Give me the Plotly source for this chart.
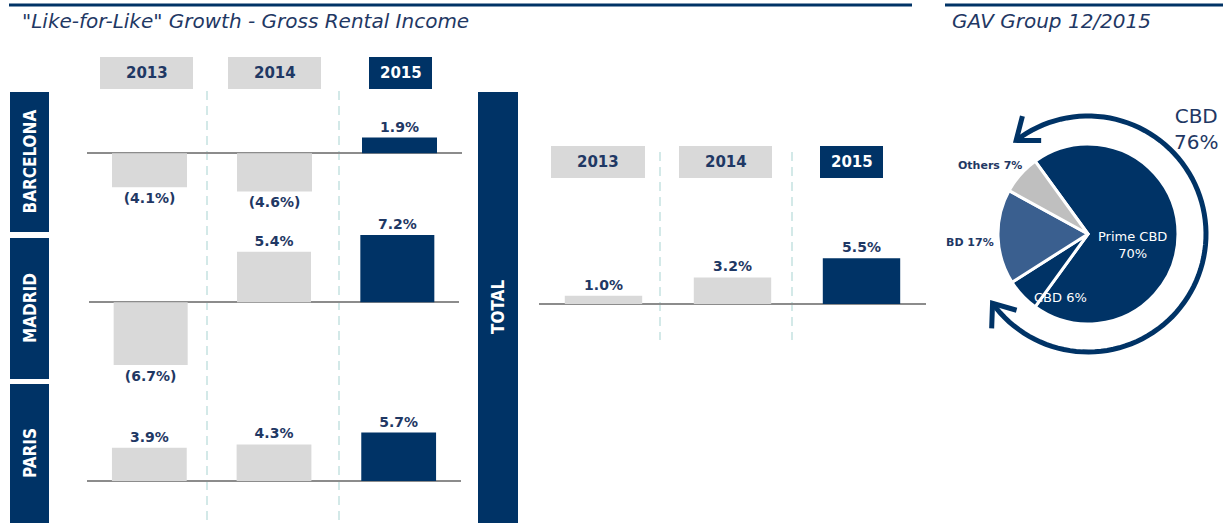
import math
import plotly.graph_objects as go

# ---------------- data ----------------
years = ["2013", "2014", "2015"]
cities = ["BARCELONA", "MADRID", "PARIS"]
barcelona = [-4.1, -4.6, 1.9]
madrid = [-6.7, 5.4, 7.2]
paris = [3.9, 4.3, 5.7]
total = [1.0, 3.2, 5.5]
pie_labels = ["Prime CBD", "CBD", "BD", "Others"]
pie_values = [70, 6, 17, 7]
cbd_total = pie_values[0] + pie_values[1]

# ---------------- styling helpers ----------------
W, H = 1223, 523
NAVY = "#003366"
TXT = "#1f3864"
GREY = "#d9d9d9"
BD_BLUE = "#3a5f8f"
OTHERS = "#bfbfbf"
DASH = "#d3e9e8"
FONT = "DejaVu Sans"
NARROW = "Liberation Sans Narrow, Arial Narrow, DejaVu Sans Condensed, sans-serif"


def px(x):
    return x / W


def py(y):
    return 1 - y / H


def fmt(v):
    return f"{v:.1f}%" if v >= 0 else f"({abs(v):.1f}%)"


bar_colors = [GREY, GREY, NAVY]

# panel layout: values, x pixel span, y pixel span, baseline pixel, px per unit
panels = [
    (barcelona, (87, 462), (95, 229), 153.3, 8.3),
    (madrid, (89, 459), (215, 377), 302.3, 9.35),
    (paris, (87, 461), (386, 520), 481.0, 8.5),
    (total, (539, 926), (95, 520), 304.0, 8.3),
]

fig = go.Figure()
layout_axes = {}
for i, (vals, (x0, x1), (y0, y1), base, scale) in enumerate(panels):
    s = "" if i == 0 else str(i + 1)
    fig.add_trace(go.Bar(
        x=years, y=vals, xaxis="x" + s, yaxis="y" + s,
        marker=dict(color=bar_colors, line=dict(width=0)),
        width=0.6,
        text=[fmt(v) for v in vals], textposition="outside",
        textfont=dict(family=FONT, size=14, color=TXT, weight="bold"),
        constraintext="none", cliponaxis=False, hoverinfo="skip",
    ))
    layout_axes["xaxis" + s] = dict(
        domain=[px(x0), px(x1)], type="category", range=[-0.5, 2.5],
        showgrid=False, zeroline=False, showticklabels=False, showline=False,
        anchor="y" + s, fixedrange=True,
    )
    layout_axes["yaxis" + s] = dict(
        domain=[py(y1), py(y0)],
        range=[-(y1 - base) / scale, (base - y0) / scale],
        showgrid=False, showticklabels=False, showline=False,
        zeroline=True, zerolinecolor="#8c8c8c", zerolinewidth=1.5,
        anchor="x" + s, fixedrange=True,
    )

# pie
fig.add_trace(go.Pie(
    labels=pie_labels, values=pie_values, sort=False, direction="clockwise",
    rotation=-36, textinfo="none", hoverinfo="skip",
    marker=dict(colors=[NAVY, NAVY, BD_BLUE, OTHERS], line=dict(color="white", width=3)),
    domain=dict(x=[px(998), px(1178)], y=[py(324), py(144)]),
    showlegend=False,
))

shapes = []
annotations = []

# top rules
shapes.append(dict(type="line", xref="paper", yref="paper", x0=px(9), x1=px(912),
                   y0=py(5), y1=py(5), line=dict(color=NAVY, width=3)))
shapes.append(dict(type="line", xref="paper", yref="paper", x0=px(945), x1=px(1223),
                   y0=py(5), y1=py(5), line=dict(color=NAVY, width=3)))

# titles
annotations.append(dict(text='"Like-for-Like" Growth - Gross Rental Income', xref="paper", yref="paper",
                        x=px(20), y=py(21), xanchor="left", yanchor="middle", showarrow=False,
                        font=dict(family=FONT, size=20, color=TXT, style="italic")))
annotations.append(dict(text="GAV Group 12/2015", xref="paper", yref="paper",
                        x=px(950), y=py(21), xanchor="left", yanchor="middle", showarrow=False,
                        font=dict(family=FONT, size=20, color=TXT, style="italic")))

# dashed separators
for x in (207, 339):
    shapes.append(dict(type="line", xref="paper", yref="paper", x0=px(x), x1=px(x),
                       y0=py(91), y1=py(523), line=dict(color=DASH, width=2, dash="9px,6px"),
                       layer="below"))
for x in (660, 792):
    shapes.append(dict(type="line", xref="paper", yref="paper", x0=px(x), x1=px(x),
                       y0=py(152), y1=py(340), line=dict(color=DASH, width=2, dash="9px,6px"),
                       layer="below"))

# year header boxes
left_boxes = [(100, 193), (228, 321), (369, 432)]
total_boxes = [(551, 645), (679, 772), (820, 883)]
for boxes, (ty0, ty1) in ((left_boxes, (57, 89)), (total_boxes, (146, 178))):
    for j, (bx0, bx1) in enumerate(boxes):
        fill = NAVY if j == 2 else GREY
        shapes.append(dict(type="rect", xref="paper", yref="paper", x0=px(bx0), x1=px(bx1),
                           y0=py(ty1), y1=py(ty0), fillcolor=fill, line=dict(width=0)))
        annotations.append(dict(text=years[j], xref="paper", yref="paper",
                                x=px((bx0 + bx1) / 2), y=py((ty0 + ty1) / 2),
                                xanchor="center", yanchor="middle", showarrow=False,
                                font=dict(family=FONT, size=15, weight="bold",
                                          color="white" if j == 2 else TXT)))

# region label boxes
region_boxes = [(92, 232), (238, 379), (384, 523)]
for name, (ry0, ry1) in zip(cities, region_boxes):
    shapes.append(dict(type="rect", xref="paper", yref="paper", x0=px(10), x1=px(49),
                       y0=py(ry1), y1=py(ry0), fillcolor=NAVY, line=dict(width=0)))
    annotations.append(dict(text=name, xref="paper", yref="paper", x=px(29.5),
                            y=py((ry0 + ry1) / 2), textangle=-90, showarrow=False,
                            xanchor="center", yanchor="middle",
                            font=dict(family=NARROW, size=17, weight="bold", color="white")))
shapes.append(dict(type="rect", xref="paper", yref="paper", x0=px(478), x1=px(518),
                   y0=py(523), y1=py(92), fillcolor=NAVY, line=dict(width=0)))
annotations.append(dict(text="TOTAL", xref="paper", yref="paper", x=px(498), y=py(307),
                        textangle=-90, showarrow=False, xanchor="center", yanchor="middle",
                        font=dict(family=NARROW, size=17, weight="bold", color="white")))

# pie labels
annotations.append(dict(text=f"{pie_labels[0]}<br>{pie_values[0]}%", xref="paper", yref="paper",
                        x=px(1132), y=py(245), showarrow=False, xanchor="center", yanchor="middle",
                        font=dict(family=FONT, size=13, color="white")))
annotations.append(dict(text=f"{pie_labels[1]} {pie_values[1]}%", xref="paper", yref="paper",
                        x=px(1060), y=py(297), showarrow=False, xanchor="center", yanchor="middle",
                        font=dict(family=FONT, size=13, color="white")))
annotations.append(dict(text=f"<b>{pie_labels[2]} {pie_values[2]}%</b>", xref="paper", yref="paper",
                        x=px(970), y=py(242), showarrow=False, xanchor="center", yanchor="middle",
                        font=dict(family=FONT, size=11, color=TXT)))
annotations.append(dict(text=f"<b>{pie_labels[3]} {pie_values[3]}%</b>", xref="paper", yref="paper",
                        x=px(990), y=py(165), showarrow=False, xanchor="center", yanchor="middle",
                        font=dict(family=FONT, size=11, color=TXT)))
annotations.append(dict(text=f"CBD<br>{cbd_total}%", xref="paper", yref="paper",
                        x=px(1196), y=py(129), showarrow=False, xanchor="center", yanchor="middle",
                        font=dict(family=FONT, size=20, color=TXT)))

# circular arrow around the pie
cx, cy, r = 1088, 234, 118
t0, t1 = 127.5, -144.0
n = 90
pts = []
for k in range(n + 1):
    t = math.radians(t0 + (t1 - t0) * k / n)
    pts.append((cx + r * math.cos(t), cy - r * math.sin(t)))
arc = "M " + " L ".join(f"{px(x):.5f},{py(y):.5f}" for x, y in pts)
shapes.append(dict(type="path", xref="paper", yref="paper", path=arc,
                   line=dict(color=NAVY, width=5)))


def chevron(theta_deg, sign, half=38, length=25):
    t = math.radians(theta_deg)
    tx, ty = cx + r * math.cos(t), cy - r * math.sin(t)
    if sign > 0:
        d = (-math.sin(t), -math.cos(t))
    else:
        d = (math.sin(t), math.cos(t))
    bx, by = -d[0], -d[1]
    out = []
    for ph in (half, -half):
        p = math.radians(ph)
        ax = bx * math.cos(p) - by * math.sin(p)
        ay = bx * math.sin(p) + by * math.cos(p)
        out.append((tx + ax * length, ty + ay * length))
    (ax1, ay1), (ax2, ay2) = out
    return (f"M {px(ax1):.5f},{py(ay1):.5f} L {px(tx):.5f},{py(ty):.5f} "
            f"L {px(ax2):.5f},{py(ay2):.5f}")


shapes.append(dict(type="path", xref="paper", yref="paper", path=chevron(t0, 1),
                   line=dict(color=NAVY, width=5)))
shapes.append(dict(type="path", xref="paper", yref="paper", path=chevron(t1, -1),
                   line=dict(color=NAVY, width=5)))

fig.update_layout(
    width=W, height=H, margin=dict(l=0, r=0, t=0, b=0),
    paper_bgcolor="white", plot_bgcolor="rgba(0,0,0,0)",
    showlegend=False, bargap=0.4, hovermode=False,
    shapes=shapes, annotations=annotations,
    **layout_axes,
)

fig.write_html(
    "out.html",
    config={"displayModeBar": False},
    post_script="document.body.style.margin='0px';document.body.style.overflow='hidden';",
)
